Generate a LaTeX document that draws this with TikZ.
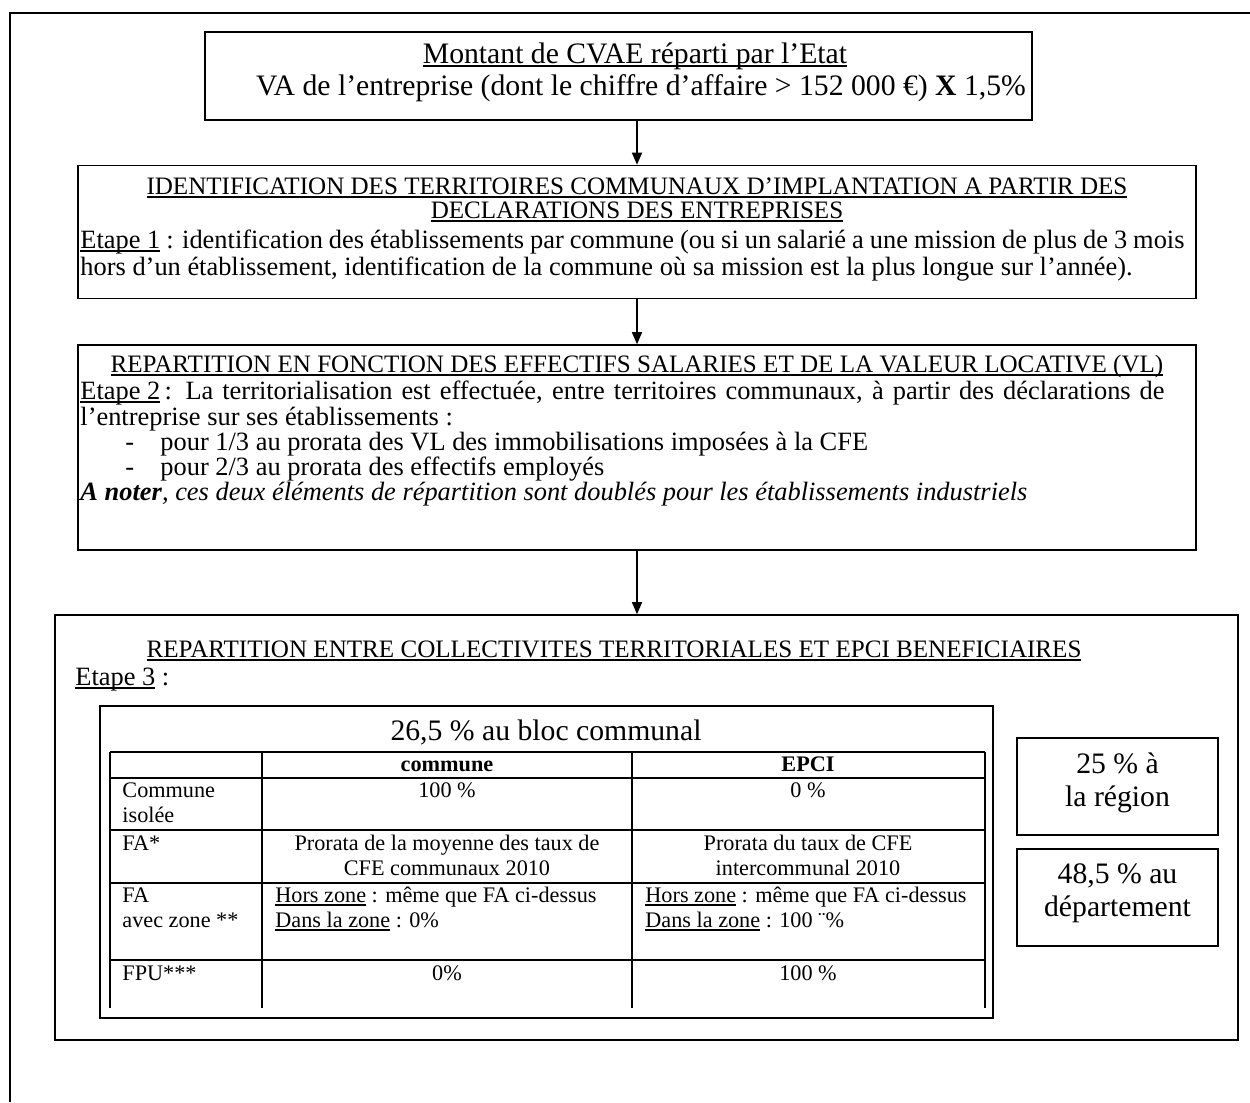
\documentclass[tikz,border=0pt]{standalone}
\usepackage{fontspec}
\setmainfont{Liberation Serif}
\usetikzlibrary{arrows.meta}
\newlength\pxu \setlength\pxu{0.4545pt}
\newcommand\ulx[1]{\setbox0\hbox{#1}\rlap{\rule[-1.6pt]{\wd0}{0.55pt}}\box0\relax}
\newcommand\fbody{\fontsize{12}{14}\selectfont}
\newcommand\fcaps{\fontsize{11.4}{13}\selectfont}
\newcommand\ftitle{\fontsize{13.5}{16}\selectfont}
\newcommand\ftab{\fontsize{10.1}{12}\selectfont}
\tikzset{
  boxst/.style={draw, line width=0.75pt, inner sep=0},
  txc/.style={inner sep=0, anchor=mid, font=\fbody},
  capc/.style={inner sep=0, anchor=mid, font=\fcaps},
  txw/.style={inner sep=0, anchor=mid west, font=\fbody},
  tabc/.style={inner sep=0, anchor=mid, font=\ftab},
  tabw/.style={inner sep=0, anchor=mid west, font=\ftab},
  bigc/.style={inner sep=0, anchor=mid, font=\ftitle},
  arr/.style={line width=0.6pt, -{Triangle[length=5.5pt,width=4.6pt]}},
  tabline/.style={line width=0.7pt},
}
\begin{document}
\begin{tikzpicture}[x=0.4545pt,y=-0.4545pt]
\useasboundingbox (0,0) rectangle (1250,1102);
% outer frame
\draw[line width=1pt] (1250,13) -- (10,13) -- (10,1102);

% box 1
\node[boxst, minimum width=827\pxu, minimum height=88\pxu] (b1) at (618.5,76) {};
\node[bigc] (b1t) at (635,58) {\ulx{Montant de CVAE réparti par l’Etat}};
\node[bigc] (b1s) at (641,90) {VA de l’entreprise (dont le chiffre d’affaire > 152 000 €) \textbf{X} 1,5\%};

% box 2
\node[boxst, minimum width=1118\pxu, minimum height=133\pxu] (b2) at (637,232) {};
\node[capc] (b2t1) at (637,189) {\ulx{IDENTIFICATION DES TERRITOIRES COMMUNAUX D’IMPLANTATION A PARTIR DES}};
\node[capc] (b2t2) at (637,213) {\ulx{DECLARATIONS DES ENTREPRISES}};
\node[txw] (b2l1) at (80,243) {\makebox[1104\pxu][s]{\ulx{Etape 1} : identification des établissements par commune (ou si un salarié a une mission de plus de 3 mois}};
\node[txw] (b2l2) at (80,270) {hors d’un établissement, identification de la commune où sa mission est la plus longue sur l’année).};

% box 3
\node[boxst, minimum width=1118\pxu, minimum height=205\pxu] (b3) at (637,447.5) {};
\node[capc] (b3t) at (637,367) {\ulx{REPARTITION EN FONCTION DES EFFECTIFS SALARIES ET DE LA VALEUR LOCATIVE (VL)}};
\node[txw] (b3l1) at (80,394) {\makebox[1084\pxu][s]{\ulx{Etape 2}\,: La territorialisation est effectuée, entre territoires communaux, à partir des déclarations de}};
\node[txw] (b3l2) at (80,420) {l’entreprise sur ses établissements :};
\node[txw] (b3d1) at (125,445) {-};
\node[txw] (b3l3) at (160,445) {pour 1/3 au prorata des VL des immobilisations imposées à la CFE};
\node[txw] (b3d2) at (125,470) {-};
\node[txw] (b3l4) at (160,470) {pour 2/3 au prorata des effectifs employés};
\node[txw] (b3l5) at (80,495) {\textbf{\textit{A noter}}\textit{, ces deux éléments de répartition sont doublés pour les établissements industriels}};

% box 4
\node[boxst, minimum width=1183\pxu, minimum height=425\pxu] (b4) at (646.5,827.5) {};
\node[capc] (b4t) at (614,652) {\ulx{REPARTITION ENTRE COLLECTIVITES TERRITORIALES ET EPCI BENEFICIAIRES}};
\node[txw] (b4e) at (75,680) {\ulx{Etape 3} :};

% bloc communal frame
\node[boxst, minimum width=893\pxu, minimum height=312\pxu] (blk) at (546.5,862) {};
\node[bigc] (blkt) at (546,735) {26,5 \% au bloc communal};

% table grid
\draw[tabline] (110,752) -- (985,752);
\draw[tabline] (110,778) -- (985,778);
\draw[tabline] (110,830) -- (985,830);
\draw[tabline] (110,883) -- (985,883);
\draw[tabline] (110,960) -- (985,960);
\draw[tabline] (110,752) -- (110,1008);
\draw[tabline] (262,752) -- (262,1008);
\draw[tabline] (632,752) -- (632,1008);
\draw[tabline] (985,752) -- (985,1008);

% table text
\node[tabc, font=\ftab\bfseries] (hc) at (447,766) {commune};
\node[tabc, font=\ftab\bfseries] (he) at (808,766) {EPCI};
\node[tabw] (r1a) at (122,792) {Commune};
\node[tabw] (r1b) at (122,817) {isolée};
\node[tabc] (r1c) at (447,792) {100 \%};
\node[tabc] (r1e) at (808,792) {0 \%};
\node[tabw] (r2a) at (122,845) {FA*};
\node[tabc] (r2c1) at (447,845) {Prorata de la moyenne des taux de};
\node[tabc] (r2c2) at (447,870) {CFE communaux 2010};
\node[tabc] (r2e1) at (808,845) {Prorata du taux de CFE};
\node[tabc] (r2e2) at (808,870) {intercommunal 2010};
\node[tabw] (r3a1) at (122,897) {FA};
\node[tabw] (r3a2) at (122,922) {avec zone **};
\node[tabw] (r3c1) at (275,897) {\ulx{Hors zone} : même que FA ci-dessus};
\node[tabw] (r3c2) at (275,922) {\ulx{Dans la zone} : 0\%};
\node[tabw] (r3e1) at (645,897) {\ulx{Hors zone} : même que FA ci-dessus};
\node[tabw] (r3e2) at (645,922) {\ulx{Dans la zone} : 100 ¨\%};
\node[tabw] (r4a) at (122,975) {FPU***};
\node[tabc] (r4c) at (447,975) {0\%};
\node[tabc] (r4e) at (808,975) {100 \%};

% right boxes
\node[boxst, minimum width=201\pxu, minimum height=97\pxu] (rg) at (1117.5,786.5) {};
\node[bigc] (rg1) at (1117.5,768) {25 \% à};
\node[bigc] (rg2) at (1117.5,801) {la région};
\node[boxst, minimum width=201\pxu, minimum height=97\pxu] (dp) at (1117.5,897.5) {};
\node[bigc] (dp1) at (1117.5,878) {48,5 \% au};
\node[bigc] (dp2) at (1117.5,911) {département};

% arrows
\draw[arr] (b2.north |- b1.south) -- (b2.north);
\draw[arr] (b2.south) -- (b3.north);
\draw[arr] (b3.south) -- (b3.south |- b4.north);
\end{tikzpicture}
\end{document}
